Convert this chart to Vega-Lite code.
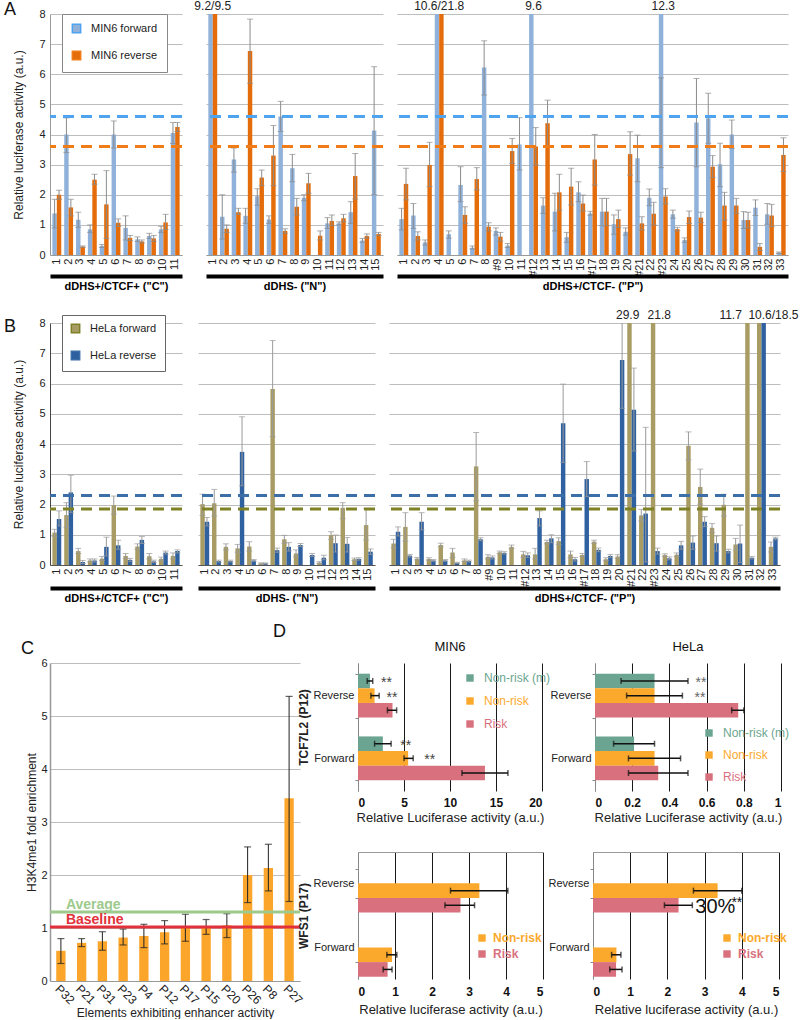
{
"$schema":"https://vega.github.io/schema/vega-lite/v6.json",
"padding":{"left":3,"top":0,"right":0,"bottom":0},
"background":"white",
"columns":1,
"align":"none",
"spacing":20,
"config":{
 "font":"Liberation Sans",
 "view":{"stroke":null},
 "axis":{"labelFont":"Liberation Sans","titleFont":"Liberation Sans","labelColor":"#222","titleColor":"#222","titleFontWeight":"normal","gridColor":"#bdbdbd","domainColor":"#999","tickColor":"#999","labelFontSize":11,"titleFontSize":12},
 "legend":{"labelFont":"Liberation Sans","labelColor":"#222"},
 "title":{"font":"Liberation Sans","color":"#111"},
 "text":{"font":"Liberation Sans"}
},
"datasets":{
"a":[
{"g":"C","c":"1","d":"F","v":1.38,"lo":0.9,"hi":1.85},{"g":"C","c":"1","d":"R","v":2.0,"lo":1.85,"hi":2.15},
{"g":"C","c":"2","d":"F","v":4.0,"lo":3.4,"hi":4.55},{"g":"C","c":"2","d":"R","v":1.58,"lo":1.3,"hi":1.85},
{"g":"C","c":"3","d":"F","v":1.17,"lo":0.92,"hi":1.42},{"g":"C","c":"3","d":"R","v":0.28,"lo":0.25,"hi":0.3},
{"g":"C","c":"4","d":"F","v":0.85,"lo":0.75,"hi":1.0},{"g":"C","c":"4","d":"R","v":2.5,"lo":2.35,"hi":2.68},
{"g":"C","c":"5","d":"F","v":0.3,"lo":0.25,"hi":0.35},{"g":"C","c":"5","d":"R","v":1.68,"lo":0.55,"hi":2.8},
{"g":"C","c":"6","d":"F","v":4.0,"lo":3.55,"hi":4.45},{"g":"C","c":"6","d":"R","v":1.07,"lo":0.95,"hi":1.2},
{"g":"C","c":"7","d":"F","v":0.9,"lo":0.5,"hi":1.3},{"g":"C","c":"7","d":"R","v":0.57,"lo":0.48,"hi":0.65},
{"g":"C","c":"8","d":"F","v":0.52,"lo":0.45,"hi":0.6},{"g":"C","c":"8","d":"R","v":0.45,"lo":0.4,"hi":0.5},
{"g":"C","c":"9","d":"F","v":0.63,"lo":0.55,"hi":0.72},{"g":"C","c":"9","d":"R","v":0.55,"lo":0.45,"hi":0.65},
{"g":"C","c":"10","d":"F","v":0.85,"lo":0.75,"hi":0.95},{"g":"C","c":"10","d":"R","v":1.08,"lo":0.85,"hi":1.35},
{"g":"C","c":"11","d":"F","v":4.05,"lo":3.7,"hi":4.4},{"g":"C","c":"11","d":"R","v":4.25,"lo":4.1,"hi":4.4},
{"g":"N","c":"1","d":"F","v":9.2},{"g":"N","c":"1","d":"R","v":9.5},
{"g":"N","c":"2","d":"F","v":1.27,"lo":0.53,"hi":2.0},{"g":"N","c":"2","d":"R","v":0.87,"lo":0.75,"hi":1.0},
{"g":"N","c":"3","d":"F","v":3.17,"lo":2.75,"hi":3.55},{"g":"N","c":"3","d":"R","v":1.42,"lo":1.35,"hi":1.55},
{"g":"N","c":"4","d":"F","v":1.3,"lo":1.05,"hi":1.55},{"g":"N","c":"4","d":"R","v":6.77,"lo":5.7,"hi":7.83},
{"g":"N","c":"5","d":"F","v":1.95,"lo":1.65,"hi":2.2},{"g":"N","c":"5","d":"R","v":2.57,"lo":2.3,"hi":2.82},
{"g":"N","c":"6","d":"F","v":1.18,"lo":1.05,"hi":1.3},{"g":"N","c":"6","d":"R","v":3.3,"lo":2.3,"hi":4.3},
{"g":"N","c":"7","d":"F","v":4.6,"lo":4.1,"hi":5.1},{"g":"N","c":"7","d":"R","v":0.8,"lo":0.72,"hi":0.87},
{"g":"N","c":"8","d":"F","v":2.88,"lo":2.43,"hi":3.34},{"g":"N","c":"8","d":"R","v":1.6,"lo":1.33,"hi":1.88},
{"g":"N","c":"9","d":"F","v":1.9,"lo":1.8,"hi":2.0},{"g":"N","c":"9","d":"R","v":2.38,"lo":2.05,"hi":2.71},
{"g":"N","c":"10","d":"R","v":0.64,"lo":0.5,"hi":0.8},
{"g":"N","c":"11","d":"F","v":1.05,"lo":0.88,"hi":1.24},{"g":"N","c":"11","d":"R","v":1.13,"lo":0.97,"hi":1.33},
{"g":"N","c":"12","d":"F","v":1.05,"lo":1.0,"hi":1.1},{"g":"N","c":"12","d":"R","v":1.22,"lo":1.1,"hi":1.35},
{"g":"N","c":"13","d":"F","v":1.42,"lo":1.05,"hi":1.77},{"g":"N","c":"13","d":"R","v":2.62,"lo":1.86,"hi":3.37},
{"g":"N","c":"14","d":"F","v":0.48,"lo":0.42,"hi":0.55},{"g":"N","c":"14","d":"R","v":0.63,"lo":0.56,"hi":0.7},
{"g":"N","c":"15","d":"F","v":4.13,"lo":2.0,"hi":6.25},{"g":"N","c":"15","d":"R","v":0.7,"lo":0.65,"hi":0.75},
{"g":"P","c":"1","d":"F","v":1.19,"lo":0.83,"hi":1.55},{"g":"P","c":"1","d":"R","v":2.36,"lo":1.83,"hi":2.88},
{"g":"P","c":"2","d":"F","v":1.31,"lo":0.88,"hi":1.71},{"g":"P","c":"2","d":"R","v":0.63,"lo":0.5,"hi":0.77},
{"g":"P","c":"3","d":"F","v":0.42,"lo":0.33,"hi":0.5},{"g":"P","c":"3","d":"R","v":2.99,"lo":2.27,"hi":3.74},
{"g":"P","c":"4","d":"F","v":10.6},{"g":"P","c":"4","d":"R","v":21.8},
{"g":"P","c":"5","d":"F","v":0.69,"lo":0.56,"hi":0.8},
{"g":"P","c":"6","d":"F","v":2.32,"lo":1.77,"hi":2.93},{"g":"P","c":"6","d":"R","v":1.33,"lo":1.05,"hi":1.6},
{"g":"P","c":"7","d":"F","v":0.24,"lo":0.2,"hi":0.3},{"g":"P","c":"7","d":"R","v":2.52,"lo":2.16,"hi":2.9},
{"g":"P","c":"8","d":"F","v":6.22,"lo":5.31,"hi":7.11},{"g":"P","c":"8","d":"R","v":0.94,"lo":0.8,"hi":1.07},
{"g":"P","c":"#9","d":"F","v":0.8,"lo":0.66,"hi":0.9},{"g":"P","c":"#9","d":"R","v":0.61,"lo":0.46,"hi":0.75},
{"g":"P","c":"10","d":"F","v":0.31,"lo":0.25,"hi":0.38},{"g":"P","c":"10","d":"R","v":3.45,"lo":3.04,"hi":3.87},
{"g":"P","c":"11","d":"F","v":3.67,"lo":2.82,"hi":4.56},
{"g":"P","c":"#12","d":"F","v":9.6},{"g":"P","c":"#12","d":"R","v":3.6,"lo":2.99,"hi":4.23},
{"g":"P","c":"13","d":"F","v":1.64,"lo":1.38,"hi":1.9},{"g":"P","c":"13","d":"R","v":4.37,"lo":3.6,"hi":5.14},
{"g":"P","c":"14","d":"F","v":1.44,"lo":0.8,"hi":2.05},{"g":"P","c":"14","d":"R","v":2.08,"lo":1.49,"hi":2.68},
{"g":"P","c":"15","d":"F","v":0.59,"lo":0.42,"hi":0.75},{"g":"P","c":"15","d":"R","v":2.27,"lo":1.66,"hi":2.88},
{"g":"P","c":"16","d":"F","v":2.08,"lo":1.77,"hi":2.43},{"g":"P","c":"16","d":"R","v":1.71,"lo":1.46,"hi":1.99},
{"g":"P","c":"#17","d":"F","v":1.38,"lo":1.32,"hi":1.45},{"g":"P","c":"#17","d":"R","v":3.17,"lo":2.32,"hi":4.0},
{"g":"P","c":"18","d":"F","v":1.44,"lo":0.97,"hi":1.88},{"g":"P","c":"18","d":"R","v":1.44,"lo":0.97,"hi":1.88},
{"g":"P","c":"19","d":"F","v":1.02,"lo":0.69,"hi":1.33},{"g":"P","c":"19","d":"R","v":1.19,"lo":0.91,"hi":1.49},
{"g":"P","c":"20","d":"F","v":0.77,"lo":0.66,"hi":0.9},{"g":"P","c":"20","d":"R","v":3.35,"lo":2.65,"hi":4.09},
{"g":"P","c":"#21","d":"F","v":3.21,"lo":2.43,"hi":3.98},{"g":"P","c":"#21","d":"R","v":1.05,"lo":0.83,"hi":1.27},
{"g":"P","c":"22","d":"F","v":1.9,"lo":1.64,"hi":2.19},{"g":"P","c":"22","d":"R","v":1.37,"lo":1.0,"hi":1.75},
{"g":"P","c":"#23","d":"F","v":12.3,"lo":2.9,"hi":5.88},{"g":"P","c":"#23","d":"R","v":1.94,"lo":1.7,"hi":2.2},
{"g":"P","c":"24","d":"F","v":1.35,"lo":1.22,"hi":1.49},{"g":"P","c":"24","d":"R","v":0.86,"lo":0.8,"hi":0.92},
{"g":"P","c":"25","d":"F","v":0.5,"lo":0.42,"hi":0.57},{"g":"P","c":"25","d":"R","v":1.26,"lo":1.05,"hi":1.46},
{"g":"P","c":"26","d":"F","v":4.4,"lo":2.93,"hi":5.86},{"g":"P","c":"26","d":"R","v":1.24,"lo":1.08,"hi":1.42},
{"g":"P","c":"27","d":"F","v":4.54,"lo":3.71,"hi":5.37},{"g":"P","c":"27","d":"R","v":2.93,"lo":2.57,"hi":3.3},
{"g":"P","c":"28","d":"F","v":3.01,"lo":2.27,"hi":3.71},{"g":"P","c":"28","d":"R","v":1.64,"lo":1.16,"hi":2.08},
{"g":"P","c":"29","d":"F","v":4.0,"lo":3.54,"hi":4.48},{"g":"P","c":"29","d":"R","v":1.64,"lo":1.38,"hi":1.88},
{"g":"P","c":"30","d":"F","v":1.16,"lo":0.88,"hi":1.44},{"g":"P","c":"30","d":"R","v":1.16,"lo":0.9,"hi":1.42},
{"g":"P","c":"31","d":"F","v":1.57,"lo":1.31,"hi":1.83},{"g":"P","c":"31","d":"R","v":0.27,"lo":0.15,"hi":0.38},
{"g":"P","c":"32","d":"F","v":1.35,"lo":1.02,"hi":1.71},{"g":"P","c":"32","d":"R","v":1.31,"lo":0.94,"hi":1.68},
{"g":"P","c":"33","d":"F","v":0.08,"lo":0.05,"hi":0.1},{"g":"P","c":"33","d":"R","v":3.32,"lo":2.77,"hi":3.89}
],
"alab":[{"g":"N","c":"1","t":"9.2/9.5"},{"g":"P","c":"4","t":"10.6/21.8"},{"g":"P","c":"#12","t":"9.6"},{"g":"P","c":"#23","t":"12.3"}],
"athr":[{"d":"F","t":4.6},{"d":"R","t":3.6}],
"b":[
{"g":"C","c":"1","d":"F","v":1.07,"lo":0.95,"hi":1.18},{"g":"C","c":"1","d":"R","v":1.52,"lo":1.29,"hi":1.79},
{"g":"C","c":"2","d":"F","v":1.65,"lo":1.25,"hi":2.06},{"g":"C","c":"2","d":"R","v":2.4,"lo":1.73,"hi":2.97},
{"g":"C","c":"3","d":"F","v":0.46,"lo":0.38,"hi":0.55},{"g":"C","c":"3","d":"R","v":0.1,"lo":0.05,"hi":0.15},
{"g":"C","c":"4","d":"F","v":0.15,"lo":0.1,"hi":0.2},{"g":"C","c":"4","d":"R","v":0.15,"lo":0.1,"hi":0.2},
{"g":"C","c":"5","d":"F","v":0.21,"lo":0.15,"hi":0.28},{"g":"C","c":"5","d":"R","v":0.6,"lo":0.3,"hi":0.92},
{"g":"C","c":"6","d":"F","v":1.98,"lo":1.68,"hi":2.28},{"g":"C","c":"6","d":"R","v":0.65,"lo":0.52,"hi":0.82},
{"g":"C","c":"7","d":"F","v":0.3,"lo":0.22,"hi":0.38},{"g":"C","c":"7","d":"R","v":0.17,"lo":0.12,"hi":0.22},
{"g":"C","c":"8","d":"F","v":0.61,"lo":0.52,"hi":0.7},{"g":"C","c":"8","d":"R","v":0.83,"lo":0.71,"hi":0.94},
{"g":"C","c":"9","d":"F","v":0.29,"lo":0.2,"hi":0.38},{"g":"C","c":"9","d":"R","v":0.12,"lo":0.08,"hi":0.16},
{"g":"C","c":"10","d":"F","v":0.2,"lo":0.14,"hi":0.26},{"g":"C","c":"10","d":"R","v":0.41,"lo":0.36,"hi":0.46},
{"g":"C","c":"11","d":"F","v":0.3,"lo":0.2,"hi":0.4},{"g":"C","c":"11","d":"R","v":0.46,"lo":0.4,"hi":0.5},
{"g":"N","c":"1","d":"F","v":2.01,"lo":1.64,"hi":2.34},{"g":"N","c":"1","d":"R","v":1.43,"lo":1.29,"hi":1.57},
{"g":"N","c":"2","d":"F","v":2.04,"lo":1.62,"hi":2.5},{"g":"N","c":"2","d":"R","v":0.13,"lo":0.1,"hi":0.16},
{"g":"N","c":"3","d":"F","v":0.6,"lo":0.5,"hi":0.7},{"g":"N","c":"3","d":"R","v":0.13,"lo":0.1,"hi":0.16},
{"g":"N","c":"4","d":"F","v":0.55,"lo":0.42,"hi":0.68},{"g":"N","c":"4","d":"R","v":3.74,"lo":2.62,"hi":4.9},
{"g":"N","c":"5","d":"F","v":0.61,"lo":0.46,"hi":0.77},{"g":"N","c":"5","d":"R","v":0.15,"lo":0.12,"hi":0.18},
{"g":"N","c":"6","d":"F","v":0.05,"lo":0.03,"hi":0.07},{"g":"N","c":"6","d":"R","v":0.05,"lo":0.03,"hi":0.07},
{"g":"N","c":"7","d":"F","v":5.82,"lo":4.24,"hi":7.42},{"g":"N","c":"7","d":"R","v":0.49,"lo":0.42,"hi":0.56},
{"g":"N","c":"8","d":"F","v":0.85,"lo":0.72,"hi":0.98},{"g":"N","c":"8","d":"R","v":0.6,"lo":0.46,"hi":0.74},
{"g":"N","c":"9","d":"F","v":0.38,"lo":0.27,"hi":0.5},{"g":"N","c":"9","d":"R","v":0.66,"lo":0.61,"hi":0.71},
{"g":"N","c":"10","d":"R","v":0.33,"lo":0.28,"hi":0.38},
{"g":"N","c":"11","d":"F","v":0.08,"lo":0.05,"hi":0.11},{"g":"N","c":"11","d":"R","v":0.24,"lo":0.17,"hi":0.32},
{"g":"N","c":"12","d":"F","v":0.99,"lo":0.85,"hi":1.1},{"g":"N","c":"12","d":"R","v":0.72,"lo":0.43,"hi":0.99},
{"g":"N","c":"13","d":"F","v":1.89,"lo":1.53,"hi":2.06},{"g":"N","c":"13","d":"R","v":0.7,"lo":0.43,"hi":0.91},
{"g":"N","c":"14","d":"F","v":0.19,"lo":0.15,"hi":0.23},{"g":"N","c":"14","d":"R","v":0.2,"lo":0.16,"hi":0.24},
{"g":"N","c":"15","d":"F","v":1.32,"lo":0.83,"hi":1.87},{"g":"N","c":"15","d":"R","v":0.44,"lo":0.35,"hi":0.53},
{"g":"P","c":"1","d":"F","v":0.71,"lo":0.57,"hi":0.85},{"g":"P","c":"1","d":"R","v":1.1,"lo":0.96,"hi":1.26},
{"g":"P","c":"2","d":"F","v":1.26,"lo":0.79,"hi":1.73},{"g":"P","c":"2","d":"R","v":0.31,"lo":0.26,"hi":0.35},
{"g":"P","c":"3","d":"F","v":0.21,"lo":0.17,"hi":0.25},{"g":"P","c":"3","d":"R","v":1.43,"lo":1.16,"hi":1.73},
{"g":"P","c":"4","d":"F","v":0.2,"lo":0.16,"hi":0.24},{"g":"P","c":"4","d":"R","v":0.15,"lo":0.12,"hi":0.18},
{"g":"P","c":"5","d":"F","v":0.66,"lo":0.6,"hi":0.72},{"g":"P","c":"5","d":"R","v":0.15,"lo":0.12,"hi":0.18},
{"g":"P","c":"6","d":"F","v":0.41,"lo":0.25,"hi":0.55},{"g":"P","c":"6","d":"R","v":0.07,"lo":0.05,"hi":0.09},
{"g":"P","c":"7","d":"F","v":0.15,"lo":0.12,"hi":0.2},{"g":"P","c":"7","d":"R","v":0.13,"lo":0.1,"hi":0.16},
{"g":"P","c":"8","d":"F","v":3.26,"lo":2.12,"hi":4.38},{"g":"P","c":"8","d":"R","v":0.85,"lo":0.8,"hi":0.9},
{"g":"P","c":"#9","d":"F","v":0.27,"lo":0.2,"hi":0.34},{"g":"P","c":"#9","d":"R","v":0.25,"lo":0.2,"hi":0.3},
{"g":"P","c":"10","d":"F","v":0.42,"lo":0.38,"hi":0.46},{"g":"P","c":"10","d":"R","v":0.4,"lo":0.36,"hi":0.44},
{"g":"P","c":"11","d":"F","v":0.6,"lo":0.54,"hi":0.66},
{"g":"P","c":"#12","d":"F","v":0.35,"lo":0.25,"hi":0.45},{"g":"P","c":"#12","d":"R","v":0.32,"lo":0.25,"hi":0.4},
{"g":"P","c":"13","d":"F","v":0.35,"lo":0.2,"hi":0.55},{"g":"P","c":"13","d":"R","v":1.55,"lo":1.29,"hi":1.79},
{"g":"P","c":"14","d":"F","v":0.76,"lo":0.7,"hi":0.82},{"g":"P","c":"14","d":"R","v":0.88,"lo":0.74,"hi":1.0},
{"g":"P","c":"15","d":"F","v":0.79,"lo":0.68,"hi":0.9},{"g":"P","c":"15","d":"R","v":4.69,"lo":3.39,"hi":5.98},
{"g":"P","c":"16","d":"F","v":0.35,"lo":0.24,"hi":0.46},{"g":"P","c":"16","d":"R","v":0.19,"lo":0.13,"hi":0.25},
{"g":"P","c":"#17","d":"F","v":0.33,"lo":0.28,"hi":0.38},{"g":"P","c":"#17","d":"R","v":2.84,"lo":2.26,"hi":3.42},
{"g":"P","c":"18","d":"F","v":0.77,"lo":0.72,"hi":0.82},{"g":"P","c":"18","d":"R","v":0.5,"lo":0.44,"hi":0.56},
{"g":"P","c":"19","d":"F","v":0.19,"lo":0.14,"hi":0.24},{"g":"P","c":"19","d":"R","v":0.3,"lo":0.25,"hi":0.35},
{"g":"P","c":"20","d":"F","v":0.28,"lo":0.22,"hi":0.34},{"g":"P","c":"20","d":"R","v":6.78,"lo":5.18,"hi":8.5},
{"g":"P","c":"#21","d":"F","v":29.9},{"g":"P","c":"#21","d":"R","v":5.13,"lo":3.77,"hi":6.51},
{"g":"P","c":"22","d":"F","v":1.64,"lo":1.46,"hi":1.84},{"g":"P","c":"22","d":"R","v":1.7,"lo":0.1,"hi":4.55},
{"g":"P","c":"#23","d":"F","v":21.8},{"g":"P","c":"#23","d":"R","v":0.46,"lo":0.36,"hi":0.56},
{"g":"P","c":"24","d":"F","v":0.33,"lo":0.28,"hi":0.37},{"g":"P","c":"24","d":"R","v":0.22,"lo":0.17,"hi":0.27},
{"g":"P","c":"25","d":"F","v":0.34,"lo":0.28,"hi":0.4},{"g":"P","c":"25","d":"R","v":0.65,"lo":0.52,"hi":0.78},
{"g":"P","c":"26","d":"F","v":3.94,"lo":3.48,"hi":4.4},{"g":"P","c":"26","d":"R","v":0.74,"lo":0.52,"hi":0.96},
{"g":"P","c":"27","d":"F","v":2.58,"lo":2.01,"hi":3.17},{"g":"P","c":"27","d":"R","v":1.43,"lo":1.27,"hi":1.6},
{"g":"P","c":"28","d":"F","v":1.23,"lo":1.07,"hi":1.37},{"g":"P","c":"28","d":"R","v":0.72,"lo":0.46,"hi":0.96},
{"g":"P","c":"29","d":"F","v":1.99,"lo":1.62,"hi":2.34},{"g":"P","c":"29","d":"R","v":0.46,"lo":0.4,"hi":0.52},
{"g":"P","c":"30","d":"F","v":0.68,"lo":0.5,"hi":0.88},{"g":"P","c":"30","d":"R","v":0.71,"lo":0.08,"hi":1.32},
{"g":"P","c":"31","d":"F","v":11.7},{"g":"P","c":"31","d":"R","v":0.24,"lo":0.2,"hi":0.28},
{"g":"P","c":"32","d":"F","v":10.6},{"g":"P","c":"32","d":"R","v":18.5},
{"g":"P","c":"33","d":"F","v":0.6,"lo":0.43,"hi":0.76},{"g":"P","c":"33","d":"R","v":0.88,"lo":0.83,"hi":0.92}
],
"blab":[{"c":"#21","t":"29.9","k":"a"},{"c":"#23","t":"21.8","k":"b"},{"c":"31","t":"11.7","k":"l"},{"c":"32","t":"10.6/18.5","k":"r"}],
"bthr":[{"d":"F","t":1.85},{"d":"R","t":2.3}],
"c":[
{"el":"P32","v":0.57,"lo":0.33,"hi":0.8},{"el":"P21","v":0.72,"lo":0.65,"hi":0.8},{"el":"P31","v":0.75,"lo":0.58,"hi":0.93},
{"el":"P23","v":0.82,"lo":0.68,"hi":0.98},{"el":"P4","v":0.85,"lo":0.63,"hi":1.07},{"el":"P12","v":0.92,"lo":0.7,"hi":1.14},
{"el":"P17","v":1.0,"lo":0.75,"hi":1.26},{"el":"P15","v":1.02,"lo":0.88,"hi":1.16},{"el":"P20","v":1.05,"lo":0.82,"hi":1.27},
{"el":"P26","v":2.0,"lo":1.48,"hi":2.53},{"el":"P8","v":2.13,"lo":1.7,"hi":2.58},{"el":"P27","v":3.45,"lo":1.5,"hi":5.37}
],
"cref":[{"label":"Average","v":1.3},{"label":"Baseline","v":1.02}],
"d":[
{"p":"TM","o":"Reverse","a":"Non-risk (m)","v":1.3,"lo":1.0,"hi":1.6},
{"p":"TM","o":"Reverse","a":"Non-risk","v":1.8,"lo":1.4,"hi":2.3},
{"p":"TM","o":"Reverse","a":"Risk","v":3.75,"lo":3.2,"hi":4.2},
{"p":"TM","o":"Forward","a":"Non-risk (m)","v":2.7,"lo":1.8,"hi":3.6},
{"p":"TM","o":"Forward","a":"Non-risk","v":5.45,"lo":5.0,"hi":6.0},
{"p":"TM","o":"Forward","a":"Risk","v":13.8,"lo":11.3,"hi":16.3},
{"p":"TH","o":"Reverse","a":"Non-risk (m)","v":0.32,"lo":0.14,"hi":0.5},
{"p":"TH","o":"Reverse","a":"Non-risk","v":0.32,"lo":0.17,"hi":0.47},
{"p":"TH","o":"Reverse","a":"Risk","v":0.77,"lo":0.735,"hi":0.8},
{"p":"TH","o":"Forward","a":"Non-risk (m)","v":0.21,"lo":0.1,"hi":0.32},
{"p":"TH","o":"Forward","a":"Non-risk","v":0.32,"lo":0.18,"hi":0.46},
{"p":"TH","o":"Forward","a":"Risk","v":0.34,"lo":0.18,"hi":0.5},
{"p":"WM","o":"Reverse","a":"Non-risk","v":3.28,"lo":2.5,"hi":4.05},
{"p":"WM","o":"Reverse","a":"Risk","v":2.77,"lo":2.35,"hi":3.15},
{"p":"WM","o":"Forward","a":"Non-risk","v":0.92,"lo":0.78,"hi":1.05},
{"p":"WM","o":"Forward","a":"Risk","v":0.8,"lo":0.68,"hi":0.92},
{"p":"WH","o":"Reverse","a":"Non-risk","v":3.35,"lo":2.7,"hi":4.0},
{"p":"WH","o":"Reverse","a":"Risk","v":2.3,"lo":1.92,"hi":2.67},
{"p":"WH","o":"Forward","a":"Non-risk","v":0.63,"lo":0.5,"hi":0.75},
{"p":"WH","o":"Forward","a":"Risk","v":0.62,"lo":0.45,"hi":0.78}
],
"dstar":[
{"p":"TM","o":"Reverse","a":"Non-risk (m)","x":2.5,"t":"**"},
{"p":"TM","o":"Reverse","a":"Non-risk","x":3.1,"t":"**"},
{"p":"TM","o":"Forward","a":"Non-risk (m)","x":4.6,"t":"**"},
{"p":"TM","o":"Forward","a":"Non-risk","x":7.2,"t":"**"},
{"p":"TH","o":"Reverse","a":"Non-risk (m)","x":0.54,"t":"**"},
{"p":"TH","o":"Reverse","a":"Non-risk","x":0.535,"t":"**"},
{"p":"WH","o":"Reverse","a":"Risk","x":3.72,"t":"**"}
],
"dpct":[{"p":"WH","o":"Reverse","a":"Risk","x":2.75,"t":"30%"}]
},
"concat":[
{
"spacing":18,
"vconcat":[
{
 "title":{"text":"A","anchor":"start","frame":"bounds","offset":-19,"fontSize":18,"fontWeight":"normal","dx":-9},
 "spacing":10,
 "resolve":{"scale":{"color":"independent","stroke":"independent"}},
 "hconcat":[
  {
   "width":132,"height":241,
   "data":{"name":"a"},
   "resolve":{"axis":{"x":"independent"}},
   "layer":[
    {"transform":[{"filter":"datum.g === 'C'"}],"mark":{"type":"bar","clip":true},
     "encoding":{
      "x":{"field":"c","type":"nominal","scale":{"domain":["1","2","3","4","5","6","7","8","9","10","11"],"paddingInner":0.25,"paddingOuter":0.2},"axis":{"title":null,"labelAngle":270,"ticks":false,"labelPadding":3,"domainColor":"#999"}},
      "xOffset":{"field":"d","scale":{"domain":["F","R"]}},
      "y":{"field":"v","type":"quantitative","scale":{"domain":[0,8]},"axis":{"title":"Relative luciferase activity (a.u.)","values":[0,1,2,3,4,5,6,7,8],"tickCount":20,"format":"d","ticks":false,"labelPadding":5,"titlePadding":13,"grid":true}},
      "color":{"field":"d","scale":{"domain":["F","R"],"range":["#8fb1da","#e46c0a"]},"legend":{"title":null,"orient":"none","legendX":12,"legendY":0,"labelExpr":"datum.value === 'F' ? 'MIN6 forward' : 'MIN6 reverse'","symbolType":"square","symbolSize":70,"strokeColor":"#888","fillColor":"white","padding":9,"rowPadding":12,"labelFontSize":11,"labelOffset":9}}
     }},
    {"transform":[{"filter":"datum.g === 'C' && isValid(datum.lo)"}],"mark":{"type":"rule","color":"#8c8c8c","clip":true},
     "encoding":{"x":{"field":"c","type":"nominal","axis":null},"xOffset":{"field":"d"},"y":{"field":"lo","type":"quantitative"},"y2":{"field":"hi"}}},
    {"transform":[{"filter":"datum.g === 'C' && isValid(datum.lo)"}],"mark":{"type":"tick","color":"#8c8c8c","size":6,"thickness":1,"clip":true},
     "encoding":{"x":{"field":"c","type":"nominal","axis":null},"xOffset":{"field":"d"},"y":{"field":"hi","type":"quantitative"}}},
    {"transform":[{"filter":"datum.g === 'C' && isValid(datum.lo)"}],"mark":{"type":"tick","color":"#8c8c8c","size":6,"thickness":1,"clip":true},
     "encoding":{"x":{"field":"c","type":"nominal","axis":{"orient":"bottom","offset":21,"labels":false,"ticks":false,"grid":false,"domainColor":"#000","domainWidth":4,"title":"dDHS+/CTCF+ (\"C\")","titleFontWeight":"bold","titleFontSize":11,"titlePadding":4,"titleColor":"#000"}},"xOffset":{"field":"d"},"y":{"field":"lo","type":"quantitative"}}},
    {"data":{"name":"athr"},"mark":{"type":"rule","strokeDash":[11,7],"strokeWidth":3},
     "encoding":{"y":{"field":"t","type":"quantitative"},"stroke":{"field":"d","scale":{"domain":["F","R"],"range":["#4ea4ee","#f07c17"]},"legend":null}}}
   ]
  },
  {
   "width":177,"height":241,
   "data":{"name":"a"},
   "resolve":{"axis":{"x":"independent"}},
   "layer":[
    {"transform":[{"filter":"datum.g === 'N'"}],"mark":{"type":"bar","clip":true},
     "encoding":{
      "x":{"field":"c","type":"nominal","scale":{"domain":["1","2","3","4","5","6","7","8","9","10","11","12","13","14","15"],"paddingInner":0.25,"paddingOuter":0.2},"axis":{"title":null,"labelAngle":270,"ticks":false,"labelPadding":3,"domainColor":"#999"}},
      "xOffset":{"field":"d","scale":{"domain":["F","R"]}},
      "y":{"field":"v","type":"quantitative","scale":{"domain":[0,8]},"axis":{"title":null,"labels":false,"ticks":false,"domain":false,"values":[0,1,2,3,4,5,6,7,8],"tickCount":20,"grid":true,"minExtent":0,"maxExtent":0}},
      "color":{"field":"d","scale":{"domain":["F","R"],"range":["#8fb1da","#e46c0a"]},"legend":null}
     }},
    {"transform":[{"filter":"datum.g === 'N' && isValid(datum.lo)"}],"mark":{"type":"rule","color":"#8c8c8c","clip":true},
     "encoding":{"x":{"field":"c","type":"nominal","axis":null},"xOffset":{"field":"d"},"y":{"field":"lo","type":"quantitative"},"y2":{"field":"hi"}}},
    {"transform":[{"filter":"datum.g === 'N' && isValid(datum.lo)"}],"mark":{"type":"tick","color":"#8c8c8c","size":6,"thickness":1,"clip":true},
     "encoding":{"x":{"field":"c","type":"nominal","axis":null},"xOffset":{"field":"d"},"y":{"field":"hi","type":"quantitative"}}},
    {"transform":[{"filter":"datum.g === 'N' && isValid(datum.lo)"}],"mark":{"type":"tick","color":"#8c8c8c","size":6,"thickness":1,"clip":true},
     "encoding":{"x":{"field":"c","type":"nominal","axis":{"orient":"bottom","offset":21,"labels":false,"ticks":false,"grid":false,"domainColor":"#000","domainWidth":4,"title":"dDHS- (\"N\")","titleFontWeight":"bold","titleFontSize":11,"titlePadding":4,"titleColor":"#000"}},"xOffset":{"field":"d"},"y":{"field":"lo","type":"quantitative"}}},
    {"data":{"name":"athr"},"mark":{"type":"rule","strokeDash":[11,7],"strokeWidth":3},
     "encoding":{"y":{"field":"t","type":"quantitative"},"stroke":{"field":"d","scale":{"domain":["F","R"],"range":["#4ea4ee","#f07c17"]},"legend":null}}},
    {"data":{"name":"alab"},"transform":[{"filter":"datum.g === 'N'"}],"mark":{"type":"text","baseline":"bottom","dy":-1,"fontSize":12,"color":"#222"},
     "encoding":{"x":{"field":"c","type":"nominal","axis":null},"y":{"datum":8},"text":{"field":"t"}}}
   ]
  },
  {
   "width":391,"height":241,
   "data":{"name":"a"},
   "resolve":{"axis":{"x":"independent"}},
   "layer":[
    {"transform":[{"filter":"datum.g === 'P'"}],"mark":{"type":"bar","clip":true},
     "encoding":{
      "x":{"field":"c","type":"nominal","scale":{"domain":["1","2","3","4","5","6","7","8","#9","10","11","#12","13","14","15","16","#17","18","19","20","#21","22","#23","24","25","26","27","28","29","30","31","32","33"],"paddingInner":0.25,"paddingOuter":0.2},"axis":{"title":null,"labelAngle":270,"ticks":false,"labelPadding":3,"domainColor":"#999"}},
      "xOffset":{"field":"d","scale":{"domain":["F","R"]}},
      "y":{"field":"v","type":"quantitative","scale":{"domain":[0,8]},"axis":{"title":null,"labels":false,"ticks":false,"domain":false,"values":[0,1,2,3,4,5,6,7,8],"tickCount":20,"grid":true,"minExtent":0,"maxExtent":0}},
      "color":{"field":"d","scale":{"domain":["F","R"],"range":["#8fb1da","#e46c0a"]},"legend":null}
     }},
    {"transform":[{"filter":"datum.g === 'P' && isValid(datum.lo)"}],"mark":{"type":"rule","color":"#8c8c8c","clip":true},
     "encoding":{"x":{"field":"c","type":"nominal","axis":null},"xOffset":{"field":"d"},"y":{"field":"lo","type":"quantitative"},"y2":{"field":"hi"}}},
    {"transform":[{"filter":"datum.g === 'P' && isValid(datum.lo)"}],"mark":{"type":"tick","color":"#8c8c8c","size":6,"thickness":1,"clip":true},
     "encoding":{"x":{"field":"c","type":"nominal","axis":null},"xOffset":{"field":"d"},"y":{"field":"hi","type":"quantitative"}}},
    {"transform":[{"filter":"datum.g === 'P' && isValid(datum.lo)"}],"mark":{"type":"tick","color":"#8c8c8c","size":6,"thickness":1,"clip":true},
     "encoding":{"x":{"field":"c","type":"nominal","axis":{"orient":"bottom","offset":21,"labels":false,"ticks":false,"grid":false,"domainColor":"#000","domainWidth":4,"title":"dDHS+/CTCF- (\"P\")","titleFontWeight":"bold","titleFontSize":11,"titlePadding":4,"titleColor":"#000"}},"xOffset":{"field":"d"},"y":{"field":"lo","type":"quantitative"}}},
    {"data":{"name":"athr"},"mark":{"type":"rule","strokeDash":[11,7],"strokeWidth":3},
     "encoding":{"y":{"field":"t","type":"quantitative"},"stroke":{"field":"d","scale":{"domain":["F","R"],"range":["#4ea4ee","#f07c17"]},"legend":null}}},
    {"data":{"name":"alab"},"transform":[{"filter":"datum.g === 'P'"}],"mark":{"type":"text","baseline":"bottom","dy":-1,"fontSize":12,"color":"#222"},
     "encoding":{"x":{"field":"c","type":"nominal","axis":null},"y":{"datum":8},"text":{"field":"t"}}}
   ]
  }
 ]
},
{
 "title":{"text":"B","anchor":"start","frame":"bounds","offset":-27,"fontSize":18,"fontWeight":"normal","dx":-9},
 "spacing":10,
 "resolve":{"scale":{"color":"independent","stroke":"independent"}},
 "hconcat":[
  {
   "width":132,"height":242,
   "data":{"name":"b"},
   "resolve":{"axis":{"x":"independent"}},
   "layer":[
    {"transform":[{"filter":"datum.g === 'C'"}],"mark":{"type":"bar","clip":true},
     "encoding":{
      "x":{"field":"c","type":"nominal","scale":{"domain":["1","2","3","4","5","6","7","8","9","10","11"],"paddingInner":0.25,"paddingOuter":0.2},"axis":{"title":null,"labelAngle":270,"ticks":false,"labelPadding":3,"domainColor":"#555"}},
      "xOffset":{"field":"d","scale":{"domain":["F","R"]}},
      "y":{"field":"v","type":"quantitative","scale":{"domain":[0,8]},"axis":{"title":"Relative luciferase activity (a.u.)","values":[0,1,2,3,4,5,6,7,8],"tickCount":20,"format":"d","ticks":false,"labelPadding":5,"titlePadding":13,"grid":true,"domainColor":"#444"}},
      "color":{"field":"d","scale":{"domain":["F","R"],"range":["#a89c64","#2f61a0"]},"legend":{"title":null,"orient":"none","legendX":12,"legendY":-8,"labelExpr":"datum.value === 'F' ? 'HeLa forward' : 'HeLa reverse'","symbolType":"square","symbolSize":70,"strokeColor":"#666","fillColor":"white","padding":8,"rowPadding":12,"labelFontSize":11,"labelOffset":9}}
     }},
    {"transform":[{"filter":"datum.g === 'C' && isValid(datum.lo)"}],"mark":{"type":"rule","color":"#9a9a9a","clip":true},
     "encoding":{"x":{"field":"c","type":"nominal","axis":null},"xOffset":{"field":"d"},"y":{"field":"lo","type":"quantitative"},"y2":{"field":"hi"}}},
    {"transform":[{"filter":"datum.g === 'C' && isValid(datum.lo)"}],"mark":{"type":"tick","color":"#9a9a9a","size":6,"thickness":1,"clip":true},
     "encoding":{"x":{"field":"c","type":"nominal","axis":null},"xOffset":{"field":"d"},"y":{"field":"hi","type":"quantitative"}}},
    {"transform":[{"filter":"datum.g === 'C' && isValid(datum.lo)"}],"mark":{"type":"tick","color":"#9a9a9a","size":6,"thickness":1,"clip":true},
     "encoding":{"x":{"field":"c","type":"nominal","axis":{"orient":"bottom","offset":23,"labels":false,"ticks":false,"grid":false,"domainColor":"#000","domainWidth":4,"title":"dDHS+/CTCF+ (\"C\")","titleFontWeight":"bold","titleFontSize":11,"titlePadding":4,"titleColor":"#000"}},"xOffset":{"field":"d"},"y":{"field":"lo","type":"quantitative"}}},
    {"data":{"name":"bthr"},"mark":{"type":"rule","strokeDash":[11,7],"strokeWidth":3},
     "encoding":{"y":{"field":"t","type":"quantitative"},"stroke":{"field":"d","scale":{"domain":["F","R"],"range":["#7f8125","#3c6ea8"]},"legend":null}}}
   ]
  },
  {
   "width":177,"height":242,
   "data":{"name":"b"},
   "resolve":{"axis":{"x":"independent"}},
   "layer":[
    {"transform":[{"filter":"datum.g === 'N'"}],"mark":{"type":"bar","clip":true},
     "encoding":{
      "x":{"field":"c","type":"nominal","scale":{"domain":["1","2","3","4","5","6","7","8","9","10","11","12","13","14","15"],"paddingInner":0.25,"paddingOuter":0.2},"axis":{"title":null,"labelAngle":270,"ticks":false,"labelPadding":3,"domainColor":"#555"}},
      "xOffset":{"field":"d","scale":{"domain":["F","R"]}},
      "y":{"field":"v","type":"quantitative","scale":{"domain":[0,8]},"axis":{"title":null,"labels":false,"ticks":false,"domain":false,"values":[0,1,2,3,4,5,6,7,8],"tickCount":20,"grid":true,"minExtent":4,"maxExtent":4}},
      "color":{"field":"d","scale":{"domain":["F","R"],"range":["#a89c64","#2f61a0"]},"legend":null}
     }},
    {"transform":[{"filter":"datum.g === 'N' && isValid(datum.lo)"}],"mark":{"type":"rule","color":"#9a9a9a","clip":true},
     "encoding":{"x":{"field":"c","type":"nominal","axis":null},"xOffset":{"field":"d"},"y":{"field":"lo","type":"quantitative"},"y2":{"field":"hi"}}},
    {"transform":[{"filter":"datum.g === 'N' && isValid(datum.lo)"}],"mark":{"type":"tick","color":"#9a9a9a","size":6,"thickness":1,"clip":true},
     "encoding":{"x":{"field":"c","type":"nominal","axis":null},"xOffset":{"field":"d"},"y":{"field":"hi","type":"quantitative"}}},
    {"transform":[{"filter":"datum.g === 'N' && isValid(datum.lo)"}],"mark":{"type":"tick","color":"#9a9a9a","size":6,"thickness":1,"clip":true},
     "encoding":{"x":{"field":"c","type":"nominal","axis":{"orient":"bottom","offset":23,"labels":false,"ticks":false,"grid":false,"domainColor":"#000","domainWidth":4,"title":"dDHS- (\"N\")","titleFontWeight":"bold","titleFontSize":11,"titlePadding":4,"titleColor":"#000"}},"xOffset":{"field":"d"},"y":{"field":"lo","type":"quantitative"}}},
    {"data":{"name":"bthr"},"mark":{"type":"rule","strokeDash":[11,7],"strokeWidth":3},
     "encoding":{"y":{"field":"t","type":"quantitative"},"stroke":{"field":"d","scale":{"domain":["F","R"],"range":["#7f8125","#3c6ea8"]},"legend":null}}}
   ]
  },
  {
   "width":391,"height":242,
   "data":{"name":"b"},
   "resolve":{"axis":{"x":"independent"}},
   "layer":[
    {"transform":[{"filter":"datum.g === 'P'"}],"mark":{"type":"bar","clip":true},
     "encoding":{
      "x":{"field":"c","type":"nominal","scale":{"domain":["1","2","3","4","5","6","7","8","#9","10","11","#12","13","14","15","16","#17","18","19","20","#21","22","#23","24","25","26","27","28","29","30","31","32","33"],"paddingInner":0.25,"paddingOuter":0.2},"axis":{"title":null,"labelAngle":270,"ticks":false,"labelPadding":3,"domainColor":"#555"}},
      "xOffset":{"field":"d","scale":{"domain":["F","R"]}},
      "y":{"field":"v","type":"quantitative","scale":{"domain":[0,8]},"axis":{"title":null,"labels":false,"ticks":false,"domain":false,"values":[0,1,2,3,4,5,6,7,8],"tickCount":20,"grid":true,"minExtent":0,"maxExtent":0}},
      "color":{"field":"d","scale":{"domain":["F","R"],"range":["#a89c64","#2f61a0"]},"legend":null}
     }},
    {"transform":[{"filter":"datum.g === 'P' && isValid(datum.lo)"}],"mark":{"type":"rule","color":"#9a9a9a","clip":true},
     "encoding":{"x":{"field":"c","type":"nominal","axis":null},"xOffset":{"field":"d"},"y":{"field":"lo","type":"quantitative"},"y2":{"field":"hi"}}},
    {"transform":[{"filter":"datum.g === 'P' && isValid(datum.lo)"}],"mark":{"type":"tick","color":"#9a9a9a","size":6,"thickness":1,"clip":true},
     "encoding":{"x":{"field":"c","type":"nominal","axis":null},"xOffset":{"field":"d"},"y":{"field":"hi","type":"quantitative"}}},
    {"transform":[{"filter":"datum.g === 'P' && isValid(datum.lo)"}],"mark":{"type":"tick","color":"#9a9a9a","size":6,"thickness":1,"clip":true},
     "encoding":{"x":{"field":"c","type":"nominal","axis":{"orient":"bottom","offset":23,"labels":false,"ticks":false,"grid":false,"domainColor":"#000","domainWidth":4,"title":"dDHS+/CTCF- (\"P\")","titleFontWeight":"bold","titleFontSize":11,"titlePadding":4,"titleColor":"#000"}},"xOffset":{"field":"d"},"y":{"field":"lo","type":"quantitative"}}},
    {"data":{"name":"bthr"},"mark":{"type":"rule","strokeDash":[11,7],"strokeWidth":3},
     "encoding":{"y":{"field":"t","type":"quantitative"},"stroke":{"field":"d","scale":{"domain":["F","R"],"range":["#7f8125","#3c6ea8"]},"legend":null}}},
    {"data":{"name":"blab"},"transform":[{"filter":"datum.k === 'a'"}],"mark":{"type":"text","baseline":"bottom","dy":-1,"dx":-4,"fontSize":12,"color":"#222"},
     "encoding":{"x":{"field":"c","type":"nominal","axis":null},"y":{"datum":8},"text":{"field":"t"}}},
    {"data":{"name":"blab"},"transform":[{"filter":"datum.k === 'b'"}],"mark":{"type":"text","baseline":"bottom","dy":-1,"dx":4,"fontSize":12,"color":"#222"},
     "encoding":{"x":{"field":"c","type":"nominal","axis":null},"y":{"datum":8},"text":{"field":"t"}}},
    {"data":{"name":"blab"},"transform":[{"filter":"datum.k === 'l'"}],"mark":{"type":"text","baseline":"bottom","dy":-1,"dx":-19,"fontSize":12,"color":"#222"},
     "encoding":{"x":{"field":"c","type":"nominal","axis":null},"y":{"datum":8},"text":{"field":"t"}}},
    {"data":{"name":"blab"},"transform":[{"filter":"datum.k === 'r'"}],"mark":{"type":"text","baseline":"bottom","dy":-1,"dx":12,"fontSize":12,"color":"#222"},
     "encoding":{"x":{"field":"c","type":"nominal","axis":null},"y":{"datum":8},"text":{"field":"t"}}}
   ]
  }
 ]
}
]
},
{
 "spacing":-32,
 "hconcat":[
  {
   "title":{"text":"C","anchor":"start","frame":"bounds","offset":-1,"fontSize":18,"fontWeight":"normal","dx":-5},
   "width":250,"height":318,
   "data":{"name":"c"},
   "layer":[
    {"mark":{"type":"bar","color":"#fba62b"},
     "encoding":{
      "x":{"field":"el","type":"nominal","sort":null,"scale":{"paddingInner":0.55,"paddingOuter":0.3},"axis":{"title":"Elements exhibiting enhancer activity","labelAngle":45,"ticks":false,"labelFontSize":12,"labelPadding":2,"titlePadding":2,"domainColor":"#999"}},
      "y":{"field":"v","type":"quantitative","scale":{"domain":[0,6]},"axis":{"title":"H3K4me1 fold enrichment","values":[0,0.5,1,1.5,2,2.5,3,3.5,4,4.5,5,5.5,6],"tickCount":30,"format":"d","labelExpr":"datum.value % 1 === 0 ? datum.label : ''","ticks":false,"labelPadding":3,"titlePadding":2,"grid":true,"domainColor":"#999","domainWidth":1.5}}
     }},
    {"mark":{"type":"rule","color":"#222"},
     "encoding":{"x":{"field":"el","type":"nominal","sort":null},"y":{"field":"lo","type":"quantitative"},"y2":{"field":"hi"}}},
    {"mark":{"type":"tick","color":"#222","size":7,"thickness":1.2},
     "encoding":{"x":{"field":"el","type":"nominal","sort":null},"y":{"field":"lo","type":"quantitative"}}},
    {"mark":{"type":"tick","color":"#222","size":7,"thickness":1.2},
     "encoding":{"x":{"field":"el","type":"nominal","sort":null},"y":{"field":"hi","type":"quantitative"}}},
    {"data":{"name":"cref"},"mark":{"type":"rule","strokeWidth":3},
     "encoding":{"y":{"field":"v","type":"quantitative"},"color":{"field":"label","scale":{"domain":["Average","Baseline"],"range":["#9dca8c","#e2313b"]},"legend":null}}},
    {"data":{"name":"cref"},"mark":{"type":"text","align":"left","baseline":"bottom","dx":5,"dy":0,"fontWeight":"bold","fontSize":14},
     "encoding":{"x":{"datum":"P32"},"y":{"field":"v","type":"quantitative"},"text":{"field":"label"},"color":{"field":"label","scale":{"domain":["Average","Baseline"],"range":["#9dca8c","#e2313b"]},"legend":null}}}
   ]
  },
  {
   "title":{"text":"D","anchor":"start","frame":"bounds","offset":0,"fontSize":18,"fontWeight":"normal","dx":-24},
   "spacing":22,
   "vconcat":[
    {
     "spacing":0,
     "resolve":{"scale":{"color":"independent"}},
     "hconcat":[
      {
       "title":{"text":"MIN6","fontSize":13,"fontWeight":"normal","offset":3},
       "width":184,"height":128,
       "data":{"name":"d"},
       "layer":[
        {"transform":[{"filter":"datum.p === 'TM'"}],"mark":{"type":"bar"},
         "encoding":{
          "y":{"field":"o","type":"nominal","scale":{"domain":["Reverse","Forward"],"paddingInner":0.3,"paddingOuter":0.17},"axis":{"title":"TCF7L2 (P12)","titleFontWeight":"bold","titleFontSize":12,"labelFontSize":11,"tickBand":"extent","domainColor":"#888","tickColor":"#888","tickSize":3,"labelPadding":1,"titlePadding":3}},
          "yOffset":{"field":"a","scale":{"domain":["Non-risk (m)","Non-risk","Risk"]}},
          "x":{"field":"v","type":"quantitative","scale":{"domain":[0,20]},"axis":{"values":[0,5,10,15,20],"tickCount":20,"format":"d","grid":true,"gridColor":{"condition":{"test":"datum.value === 0","value":"#888"},"value":"#1a1a1a"},"domain":false,"ticks":false,"labelFontWeight":"bold","labelFontSize":12,"labelColor":"#111","labelPadding":6,"title":"Relative Luciferase activity (a.u.)","titleFontSize":13,"titlePadding":3}},
          "color":{"field":"a","scale":{"domain":["Non-risk (m)","Non-risk","Risk"],"range":["#6ba591","#fba92c","#d8717d"]},"legend":{"title":null,"orient":"none","legendX":106,"legendY":9,"symbolType":"square","symbolSize":55,"labelFontSize":12,"rowPadding":11,"labelOffset":8,"encode":{"labels":{"update":{"fill":{"signal":"datum.value === 'Risk' ? '#d8717d' : datum.value === 'Non-risk' ? '#fba92c' : '#6ba591'"}}}}}}
         }},
        {"transform":[{"filter":"datum.p === 'TM'"}],"mark":{"type":"rule","color":"#111","strokeWidth":1.5},
         "encoding":{"y":{"field":"o","type":"nominal"},"yOffset":{"field":"a"},"x":{"field":"lo","type":"quantitative"},"x2":{"field":"hi"}}},
        {"transform":[{"filter":"datum.p === 'TM'"}],"mark":{"type":"tick","color":"#111","size":6,"thickness":1.5},
         "encoding":{"y":{"field":"o","type":"nominal"},"yOffset":{"field":"a"},"x":{"field":"lo","type":"quantitative"}}},
        {"transform":[{"filter":"datum.p === 'TM'"}],"mark":{"type":"tick","color":"#111","size":6,"thickness":1.5},
         "encoding":{"y":{"field":"o","type":"nominal"},"yOffset":{"field":"a"},"x":{"field":"hi","type":"quantitative"}}},
        {"data":{"name":"dstar"},"transform":[{"filter":"datum.p === 'TM'"}],"mark":{"type":"text","align":"left","baseline":"middle","fontSize":14,"color":"#444","dy":2},
         "encoding":{"y":{"field":"o","type":"nominal"},"yOffset":{"field":"a"},"x":{"field":"x","type":"quantitative"},"text":{"field":"t"}}}
       ]
      },
      {
       "title":{"text":"HeLa","fontSize":13,"fontWeight":"normal","offset":3},
       "width":186,"height":128,
       "data":{"name":"d"},
       "layer":[
        {"transform":[{"filter":"datum.p === 'TH'"}],"mark":{"type":"bar"},
         "encoding":{
          "y":{"field":"o","type":"nominal","scale":{"domain":["Reverse","Forward"],"paddingInner":0.3,"paddingOuter":0.17},"axis":{"title":null,"labelFontSize":11,"tickBand":"extent","domainColor":"#888","tickColor":"#888","tickSize":3,"labelPadding":1}},
          "yOffset":{"field":"a","scale":{"domain":["Non-risk (m)","Non-risk","Risk"]}},
          "x":{"field":"v","type":"quantitative","scale":{"domain":[0,1]},"axis":{"values":[0,0.2,0.4,0.6,0.8,1],"tickCount":20,"format":"~g","grid":true,"gridColor":{"condition":{"test":"datum.value === 0","value":"#888"},"value":"#1a1a1a"},"domain":false,"ticks":false,"labelFontWeight":"bold","labelFontSize":12,"labelColor":"#111","labelPadding":6,"title":"Relative Luciferase activity (a.u.)","titleFontSize":13,"titlePadding":3}},
          "color":{"field":"a","scale":{"domain":["Non-risk (m)","Non-risk","Risk"],"range":["#6ba591","#fba92c","#d8717d"]},"legend":{"title":null,"orient":"none","legendX":108,"legendY":64,"symbolType":"square","symbolSize":55,"labelFontSize":12,"rowPadding":10,"labelOffset":8,"encode":{"labels":{"update":{"fill":{"signal":"datum.value === 'Risk' ? '#d8717d' : datum.value === 'Non-risk' ? '#fba92c' : '#6ba591'"}}}}}}
         }},
        {"transform":[{"filter":"datum.p === 'TH'"}],"mark":{"type":"rule","color":"#111","strokeWidth":1.5},
         "encoding":{"y":{"field":"o","type":"nominal"},"yOffset":{"field":"a"},"x":{"field":"lo","type":"quantitative"},"x2":{"field":"hi"}}},
        {"transform":[{"filter":"datum.p === 'TH'"}],"mark":{"type":"tick","color":"#111","size":6,"thickness":1.5},
         "encoding":{"y":{"field":"o","type":"nominal"},"yOffset":{"field":"a"},"x":{"field":"lo","type":"quantitative"}}},
        {"transform":[{"filter":"datum.p === 'TH'"}],"mark":{"type":"tick","color":"#111","size":6,"thickness":1.5},
         "encoding":{"y":{"field":"o","type":"nominal"},"yOffset":{"field":"a"},"x":{"field":"hi","type":"quantitative"}}},
        {"data":{"name":"dstar"},"transform":[{"filter":"datum.p === 'TH'"}],"mark":{"type":"text","align":"left","baseline":"middle","fontSize":14,"color":"#666","dy":2},
         "encoding":{"y":{"field":"o","type":"nominal"},"yOffset":{"field":"a"},"x":{"field":"x","type":"quantitative"},"text":{"field":"t"}}}
       ]
      }
     ]
    },
    {
     "spacing":5,
     "resolve":{"scale":{"color":"independent"}},
     "hconcat":[
      {
       "width":185,"height":127,
       "data":{"name":"d"},
       "resolve":{"axis":{"x":"independent"}},
       "layer":[
        {"transform":[{"filter":"datum.p === 'WM'"}],"mark":{"type":"bar"},
         "encoding":{
          "y":{"field":"o","type":"nominal","scale":{"domain":["Reverse","Forward"],"paddingInner":0.54,"paddingOuter":0.26},"axis":{"title":"WFS1 (P17)","titleFontWeight":"bold","titleFontSize":12,"labelFontSize":11,"tickBand":"extent","domainColor":"#888","tickColor":"#888","tickSize":3,"labelPadding":1,"titlePadding":3}},
          "yOffset":{"field":"a","scale":{"domain":["Non-risk","Risk"]}},
          "x":{"field":"v","type":"quantitative","scale":{"domain":[0,5]},"axis":{"values":[0,1,2,3,4,5],"tickCount":20,"format":"d","grid":true,"gridColor":{"condition":{"test":"datum.value === 0","value":"#888"},"value":"#1a1a1a"},"domain":false,"ticks":false,"labelFontWeight":"bold","labelFontSize":12,"labelColor":"#111","labelPadding":7,"title":"Relative luciferase activity (a.u.)","titleFontSize":13,"titlePadding":6}},
          "color":{"field":"a","scale":{"domain":["Non-risk","Risk"],"range":["#fba92c","#d8717d"]},"legend":{"title":null,"orient":"none","legendX":118,"legendY":80,"symbolType":"square","symbolSize":55,"labelFontSize":12,"labelFontWeight":"bold","rowPadding":4,"labelOffset":5,"encode":{"labels":{"update":{"fill":{"signal":"datum.value === 'Risk' ? '#d8717d' : '#fba92c'"}}}}}}
         }},
        {"transform":[{"filter":"datum.p === 'WM'"}],"mark":{"type":"rule","color":"#111","strokeWidth":1.5},
         "encoding":{"y":{"field":"o","type":"nominal"},"yOffset":{"field":"a"},"x":{"field":"lo","type":"quantitative","axis":{"orient":"top","labels":false,"ticks":false,"grid":false,"title":null,"domainColor":"#999"}},"x2":{"field":"hi"}}},
        {"transform":[{"filter":"datum.p === 'WM'"}],"mark":{"type":"tick","color":"#111","size":6,"thickness":1.5},
         "encoding":{"y":{"field":"o","type":"nominal"},"yOffset":{"field":"a"},"x":{"field":"lo","type":"quantitative","axis":null}}},
        {"transform":[{"filter":"datum.p === 'WM'"}],"mark":{"type":"tick","color":"#111","size":6,"thickness":1.5},
         "encoding":{"y":{"field":"o","type":"nominal"},"yOffset":{"field":"a"},"x":{"field":"hi","type":"quantitative","axis":null}}}
       ]
      },
      {
       "width":186,"height":127,
       "data":{"name":"d"},
       "resolve":{"axis":{"x":"independent"}},
       "layer":[
        {"transform":[{"filter":"datum.p === 'WH'"}],"mark":{"type":"bar"},
         "encoding":{
          "y":{"field":"o","type":"nominal","scale":{"domain":["Reverse","Forward"],"paddingInner":0.54,"paddingOuter":0.26},"axis":{"title":null,"labelFontSize":11,"tickBand":"extent","domainColor":"#888","tickColor":"#888","tickSize":3,"labelPadding":1}},
          "yOffset":{"field":"a","scale":{"domain":["Non-risk","Risk"]}},
          "x":{"field":"v","type":"quantitative","scale":{"domain":[0,5]},"axis":{"values":[0,1,2,3,4,5],"tickCount":20,"format":"d","grid":true,"gridColor":{"condition":{"test":"datum.value === 0","value":"#888"},"value":"#1a1a1a"},"domain":false,"ticks":false,"labelFontWeight":"bold","labelFontSize":12,"labelColor":"#111","labelPadding":7,"title":"Relative luciferase activity (a.u.)","titleFontSize":13,"titlePadding":6}},
          "color":{"field":"a","scale":{"domain":["Non-risk","Risk"],"range":["#fba92c","#d8717d"]},"legend":{"title":null,"orient":"none","legendX":128,"legendY":80,"symbolType":"square","symbolSize":55,"labelFontSize":12,"labelFontWeight":"bold","rowPadding":4,"labelOffset":5,"encode":{"labels":{"update":{"fill":{"signal":"datum.value === 'Risk' ? '#d8717d' : '#fba92c'"}}}}}}
         }},
        {"transform":[{"filter":"datum.p === 'WH'"}],"mark":{"type":"rule","color":"#111","strokeWidth":1.5},
         "encoding":{"y":{"field":"o","type":"nominal"},"yOffset":{"field":"a"},"x":{"field":"lo","type":"quantitative","axis":{"orient":"top","labels":false,"ticks":false,"grid":false,"title":null,"domainColor":"#999"}},"x2":{"field":"hi"}}},
        {"transform":[{"filter":"datum.p === 'WH'"}],"mark":{"type":"tick","color":"#111","size":6,"thickness":1.5},
         "encoding":{"y":{"field":"o","type":"nominal"},"yOffset":{"field":"a"},"x":{"field":"lo","type":"quantitative","axis":null}}},
        {"transform":[{"filter":"datum.p === 'WH'"}],"mark":{"type":"tick","color":"#111","size":6,"thickness":1.5},
         "encoding":{"y":{"field":"o","type":"nominal"},"yOffset":{"field":"a"},"x":{"field":"hi","type":"quantitative","axis":null}}},
        {"data":{"name":"dpct"},"mark":{"type":"text","align":"left","baseline":"middle","fontSize":20,"color":"#111","dy":2},
         "encoding":{"y":{"field":"o","type":"nominal"},"yOffset":{"field":"a"},"x":{"field":"x","type":"quantitative","axis":null},"text":{"field":"t"}}},
        {"data":{"name":"dstar"},"transform":[{"filter":"datum.p === 'WH'"}],"mark":{"type":"text","align":"left","baseline":"middle","fontSize":14,"color":"#111","dy":-2},
         "encoding":{"y":{"field":"o","type":"nominal"},"yOffset":{"field":"a"},"x":{"field":"x","type":"quantitative","axis":null},"text":{"field":"t"}}}
       ]
      }
     ]
    }
   ]
  }
 ]
}
]
}
